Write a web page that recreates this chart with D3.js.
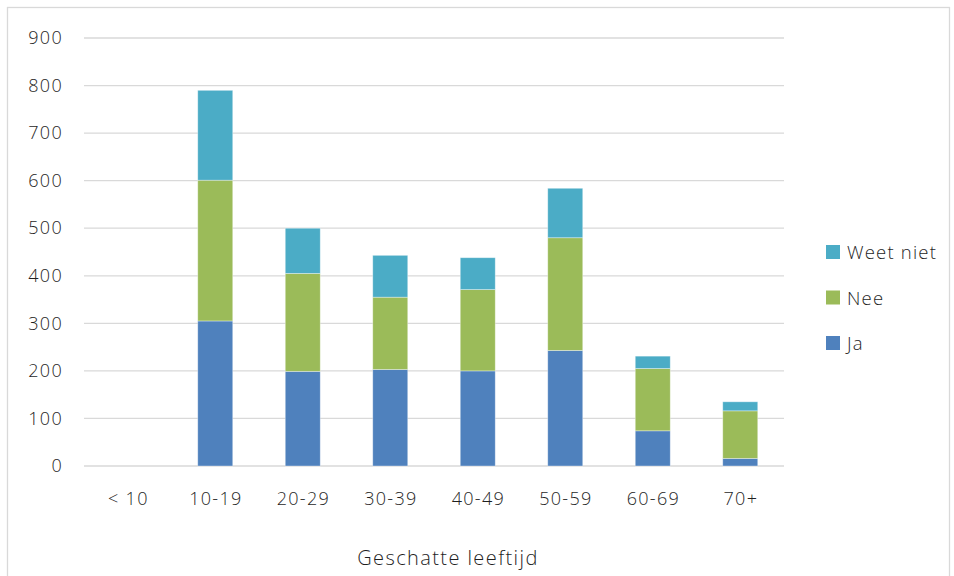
<!DOCTYPE html>
<html>
<head>
<meta charset="utf-8">
<script src="https://cdn.jsdelivr.net/npm/d3@7/dist/d3.min.js"></script>
<style>
  html, body { margin: 0; padding: 0; background: #fff; }
  svg { display: block; font-family: "Open Sans", "Noto Sans", sans-serif; font-weight: 350; }
</style>
</head>
<body>
<svg id="chart" width="954" height="576"></svg>
<script>
// Age groups and answer counts per group
const categories = ["< 10", "10-19", "20-29", "30-39", "40-49", "50-59", "60-69", "70+"];
const ja        = [0, 305, 199, 203, 200, 243, 74, 16];
const nee       = [0, 296, 206, 152, 171, 237, 131, 100];
const weetNiet  = [0, 189, 95, 88, 67, 104, 26, 19];
const yTicks    = [0, 100, 200, 300, 400, 500, 600, 700, 800, 900];

const seriesNames  = ["Ja", "Nee", "Weet niet"];
const seriesColors = ["#4F81BD", "#9BBB59", "#4BACC6"];

const rows = categories.map((c, i) => ({ cat: c, "Ja": ja[i], "Nee": nee[i], "Weet niet": weetNiet[i] }));
const stacked = d3.stack().keys(seriesNames)(rows);

const svg = d3.select("#chart");
const textColor = "#1f1f1f";

// outer chart frame
svg.append("rect")
  .attr("x", 7.5).attr("y", 7.5).attr("width", 942).attr("height", 580)
  .attr("fill", "#fff").attr("stroke", "#d9d9d9").attr("stroke-width", 1.3);

const plot = { left: 84, right: 784, top: 38, bottom: 466 };

const x = d3.scaleBand().domain(categories).range([plot.left, plot.right]).paddingInner(0.6).paddingOuter(0.3);
const y = d3.scaleLinear().domain([0, 900]).range([plot.bottom, plot.top]);

// horizontal gridlines
svg.append("g").selectAll("line").data(yTicks).join("line")
  .attr("x1", plot.left).attr("x2", plot.right)
  .attr("y1", d => y(d)).attr("y2", d => y(d))
  .attr("stroke", "#d9d9d9").attr("stroke-width", 1.3);

// y axis labels
const yAxis = d3.axisLeft(y).tickValues(yTicks).tickSize(0).tickPadding(0);
const gy = svg.append("g").attr("transform", "translate(63,0)").call(yAxis);
gy.select(".domain").remove();
gy.selectAll("text")
  .attr("font-size", 18).attr("letter-spacing", 1.3).attr("fill", textColor)
  .attr("font-family", "Open Sans, Noto Sans, sans-serif").attr("font-weight", 350);

// x axis labels
const xAxis = d3.axisBottom(x).tickSize(0).tickPadding(0);
const gx = svg.append("g").call(xAxis);
gx.select(".domain").remove();
gx.selectAll("text")
  .attr("y", 505).attr("dy", null).attr("dx", 0.65)
  .attr("font-size", 18).attr("letter-spacing", 1.3).attr("fill", textColor)
  .attr("font-family", "Open Sans, Noto Sans, sans-serif").attr("font-weight", 350);

// stacked bars
svg.append("g").selectAll("g").data(stacked).join("g")
  .attr("fill", (d, i) => seriesColors[i])
  .selectAll("rect").data(d => d).join("rect")
  .attr("x", d => x(d.data.cat))
  .attr("width", x.bandwidth())
  .attr("y", d => y(d[1]))
  .attr("height", d => Math.max(0, y(d[0]) - y(d[1])))
  .attr("stroke", "rgba(255,255,255,0.45)").attr("stroke-width", 0.8);

// x axis title
svg.append("text")
  .attr("x", 448).attr("y", 565)
  .attr("text-anchor", "middle").attr("font-size", 20).attr("letter-spacing", 1.4)
  .attr("fill", textColor)
  .text("Geschatte leeftijd");

// legend (top to bottom: Weet niet, Nee, Ja)
const legendItems = seriesNames.map((n, i) => ({ name: n, color: seriesColors[i] })).reverse();
const lg = svg.append("g").selectAll("g").data(legendItems).join("g")
  .attr("transform", (d, i) => `translate(826,${245 + i * 45.5})`);
lg.append("rect").attr("width", 14).attr("height", 14).attr("fill", d => d.color);
lg.append("text").attr("x", 21).attr("y", 14)
  .attr("font-size", 18.5).attr("letter-spacing", 1.2).attr("fill", textColor).text(d => d.name);
</script>
</body>
</html>
